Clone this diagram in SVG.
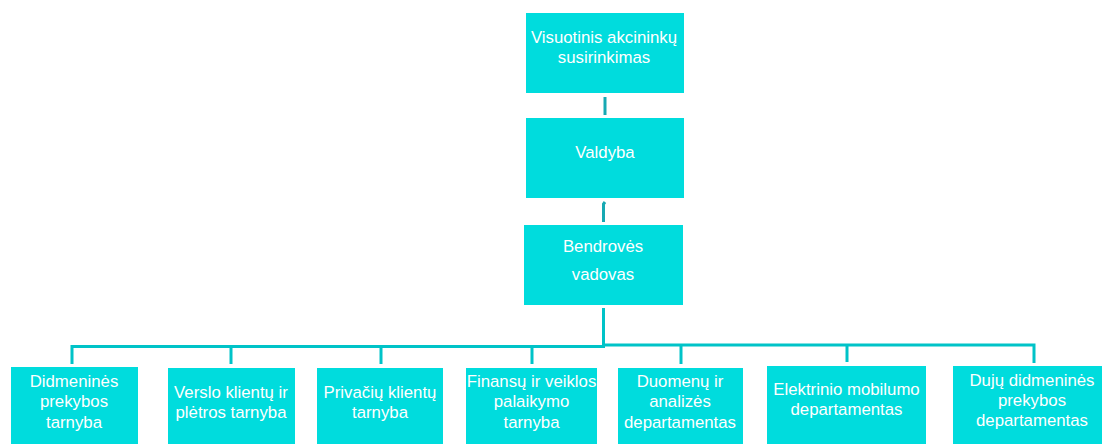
<svg xmlns="http://www.w3.org/2000/svg" width="1102" height="444" viewBox="0 0 1102 444">
<style>
.box{fill:#00dcdd;}
.t{font-family:"Liberation Sans",Arial,sans-serif;font-size:16.8px;fill:#ffffff;text-anchor:middle;}
.c{stroke:#00c3c8;stroke-width:3;fill:none;}
.d{stroke:#17a9b3;stroke-width:3;fill:none;}
</style>
<rect width="1102" height="444" fill="#ffffff"/>
<g id="connectors">
<path class="d" d="M605,97 V115"/>
<path class="d" d="M603.5,222 V204 L605,202"/>
<path class="c" d="M603.5,308 V347"/>
<path class="c" d="M72,364 V346.5 H605"/>
<path class="c" d="M605,345 H1034 V363"/>
<path class="c" d="M231,346.5 V364"/>
<path class="c" d="M381,346.5 V364"/>
<path class="c" d="M532,346.5 V364"/>
<path class="c" d="M681,345 V364"/>
<path class="c" d="M847,345 V362"/>
</g>
<g id="n1"><rect class="box" x="526" y="13" width="158" height="80"/><text class="t" x="604" y="43">Visuotinis akcininkų</text><text class="t" x="604" y="63">susirinkimas</text></g>
<g id="n2"><rect class="box" x="526" y="118" width="158" height="80"/><text class="t" x="605" y="158">Valdyba</text></g>
<g id="n3"><rect class="box" x="524" y="225" width="159" height="80"/><text class="t" x="603" y="252">Bendrovės</text><text class="t" x="603" y="280">vadovas</text></g>
<g id="n4"><rect class="box" x="11" y="367" width="127" height="80"/><text class="t" x="74" y="387">Didmeninės</text><text class="t" x="74" y="407">prekybos</text><text class="t" x="74" y="428">tarnyba</text></g>
<g id="n5"><rect class="box" x="168" y="368" width="127" height="80"/><text class="t" x="231" y="398">Verslo klientų ir</text><text class="t" x="231" y="418">plėtros tarnyba</text></g>
<g id="n6"><rect class="box" x="317" y="368" width="126" height="80"/><text class="t" x="380" y="398">Privačių klientų</text><text class="t" x="380" y="418">tarnyba</text></g>
<g id="n7"><rect class="box" x="466" y="368" width="131" height="80"/><text class="t" x="531.5" y="387">Finansų ir veiklos</text><text class="t" x="531.5" y="407">palaikymo</text><text class="t" x="531.5" y="428">tarnyba</text></g>
<g id="n8"><rect class="box" x="618" y="368" width="125" height="80"/><text class="t" x="680" y="387">Duomenų ir</text><text class="t" x="680" y="407">analizės</text><text class="t" x="680" y="428">departamentas</text></g>
<g id="n9"><rect class="box" x="767" y="366" width="159" height="80"/><text class="t" x="846.5" y="395">Elektrinio mobilumo</text><text class="t" x="846.5" y="415">departamentas</text></g>
<g id="n10"><rect class="box" x="953" y="366" width="149" height="80"/><text class="t" x="1032" y="386">Dujų didmeninės</text><text class="t" x="1032" y="406">prekybos</text><text class="t" x="1032" y="426">departamentas</text></g>
</svg>
